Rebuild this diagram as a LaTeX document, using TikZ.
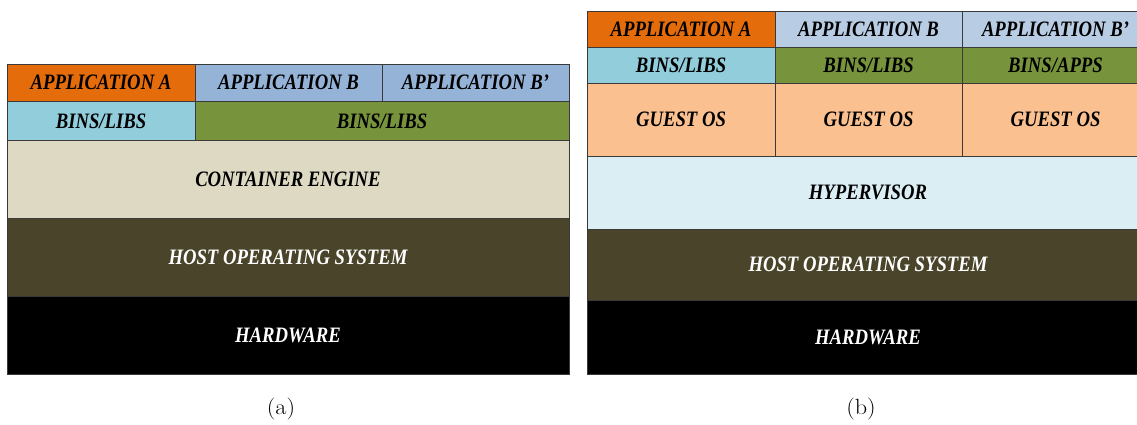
\documentclass[tikz,border=0pt]{standalone}
\usepackage{fontspec}
\newfontfamily\lab[FakeStretch=0.85]{Liberation Serif}
\definecolor{linec}{HTML}{3A3A3A}
\definecolor{orangeA}{HTML}{E46C0A}
\definecolor{blueB}{HTML}{95B3D7}
\definecolor{blueBl}{HTML}{B8CCE4}
\definecolor{aqua}{HTML}{92CDDC}
\definecolor{olive}{HTML}{77933C}
\definecolor{tan}{HTML}{DDD9C3}
\definecolor{hostos}{HTML}{4A452A}
\definecolor{guest}{HTML}{FAC090}
\definecolor{hyper}{HTML}{DBEEF4}
\begin{document}
\begin{tikzpicture}[x=1pt,y=-1pt,
  cell/.style={draw=linec, line width=0.8pt, inner sep=0pt, align=center,
    font=\lab\bfseries\itshape\fontsize{22}{22}\selectfont},
  captext/.style={font=\fontsize{22}{22}\selectfont, inner sep=0pt}]
\useasboundingbox (0,0) rectangle (1137,424);
% ---------- (a) ----------
\node[cell, fill=orangeA, minimum width=188pt, minimum height=37.5pt] (aA) at (101,82.75) {APPLICATION A};
\node[cell, fill=blueB, minimum width=187pt, minimum height=37.5pt] (aB) at (288.5,82.75) {APPLICATION B};
\node[cell, fill=blueB, minimum width=187pt, minimum height=37.5pt] (aBp) at (475.5,82.75) {APPLICATION B’};
\node[cell, fill=aqua, minimum width=188pt, minimum height=39pt] (aL1) at (101,121) {BINS/LIBS};
\node[cell, fill=olive, minimum width=374pt, minimum height=39pt] (aL2) at (382,121) {BINS/LIBS};
\node[cell, fill=tan, minimum width=562pt, minimum height=77.5pt] (aCE) at (288,179.25) {CONTAINER ENGINE};
\node[cell, fill=hostos, text=white, minimum width=562pt, minimum height=78pt] (aHOS) at (288,257) {HOST OPERATING SYSTEM};
\node[cell, fill=black, text=white, minimum width=562pt, minimum height=78pt] (aHW) at (288,335) {HARDWARE};
\node[captext] (capa) at (281,409) {\scalebox{1.1}[1]{(a)}};
% ---------- (b) ----------
\node[cell, fill=orangeA, minimum width=188pt, minimum height=36pt] (bA) at (681,29.5) {APPLICATION A};
\node[cell, fill=blueBl, minimum width=187pt, minimum height=36pt] (bB) at (868.5,29.5) {APPLICATION B};
\node[cell, fill=blueBl, minimum width=187pt, minimum height=36pt] (bBp) at (1055.5,29.5) {APPLICATION B’};
\node[cell, fill=aqua, minimum width=188pt, minimum height=36pt] (bL1) at (681,65.5) {BINS/LIBS};
\node[cell, fill=olive, minimum width=187pt, minimum height=36pt] (bL2) at (868.5,65.5) {BINS/LIBS};
\node[cell, fill=olive, minimum width=187pt, minimum height=36pt] (bL3) at (1055.5,65.5) {BINS/APPS};
\node[cell, fill=guest, minimum width=188pt, minimum height=72.5pt] (bG1) at (681,119.75) {GUEST OS};
\node[cell, fill=guest, minimum width=187pt, minimum height=72.5pt] (bG2) at (868.5,119.75) {GUEST OS};
\node[cell, fill=guest, minimum width=187pt, minimum height=72.5pt] (bG3) at (1055.5,119.75) {GUEST OS};
\node[cell, fill=hyper, minimum width=562pt, minimum height=73pt] (bHV) at (868,192.5) {HYPERVISOR};
\node[cell, fill=hostos, text=white, minimum width=562pt, minimum height=71.5pt] (bHOS) at (868,264.75) {HOST OPERATING SYSTEM};
\node[cell, fill=black, text=white, minimum width=562pt, minimum height=73.5pt] (bHW) at (868,337.25) {HARDWARE};
\node[captext] (capb) at (861,409) {\scalebox{1.1}[1]{(b)}};
\end{tikzpicture}
\end{document}
